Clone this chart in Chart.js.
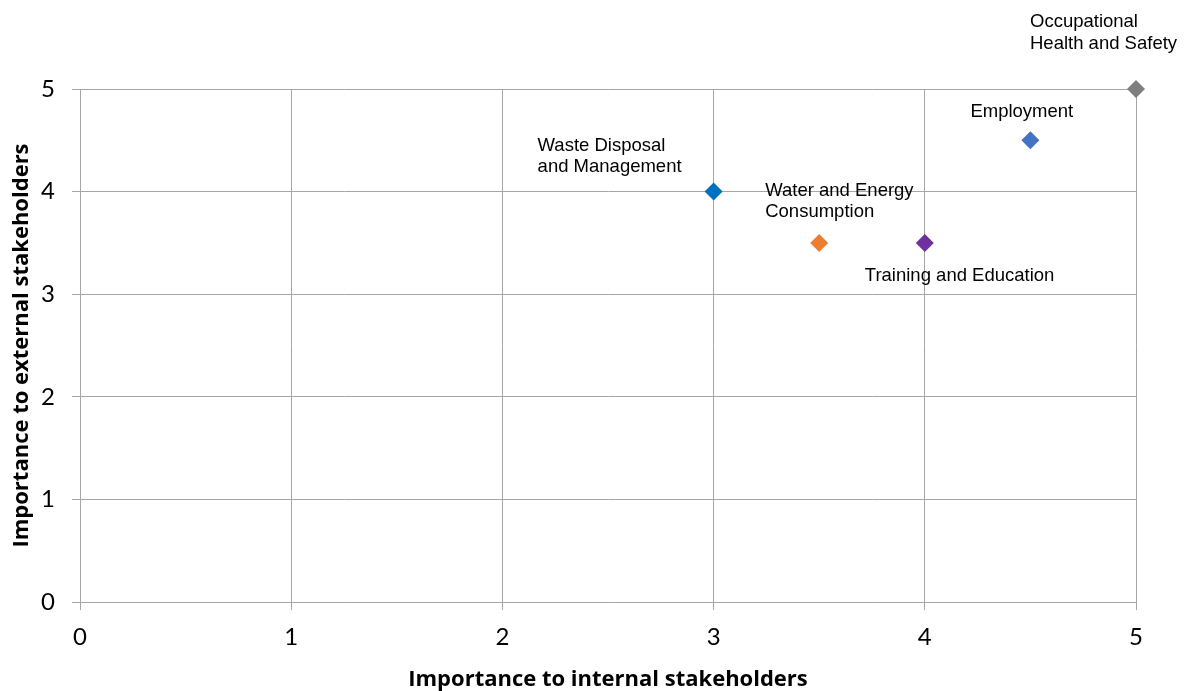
<!DOCTYPE html>
<html lang="en">
<head>
<meta charset="utf-8">
<script src="https://cdn.jsdelivr.net/npm/chart.js@4.4.0/dist/chart.umd.min.js"></script>
<style>
  html, body { margin: 0; padding: 0; background: #fff; }
  #wrap { width: 1188px; height: 691px; }
</style>
</head>
<body>
<div id="wrap"><canvas id="chart"></canvas></div>
<script>
// --- data ---
const topics   = ["Waste Disposal\nand Management", "Water and Energy\nConsumption", "Training and Education", "Employment", "Occupational\nHealth and Safety"];
const internal = [3, 3.5, 4, 4.5, 5];
const external = [4, 3.5, 3.5, 4.5, 5];
const colours  = ["#0070C0", "#ED7D31", "#7030A0", "#4472C4", "#7F7F7F"];
const axisTicks = [0, 1, 2, 3, 4, 5];

// label placement relative to the point (px): left edge, first line centre
const labelOffsets = [
  [-176, -46],
  [-54, -52],
  [-60, 33],
  [-60, -28],
  [-106, -67]
];

const gridColour = "#a6a6a6";
const tickFont = { family: "Lato, 'Open Sans', sans-serif", size: 24 };
const titleFont = { family: "'Open Sans', Lato, sans-serif", size: 22, weight: "bold" };

// draws the topic names beside each diamond
const topicLabels = {
  id: "topicLabels",
  afterDatasetsDraw(chart) {
    const ctx = chart.ctx;
    const xs = chart.scales.x, ys = chart.scales.y;
    ctx.save();
    ctx.font = "18.5px 'Liberation Sans', Arial, sans-serif";
    ctx.fillStyle = "#000";
    ctx.textAlign = "left";
    ctx.textBaseline = "middle";
    topics.forEach((t, i) => {
      const px = xs.getPixelForValue(internal[i]);
      const py = ys.getPixelForValue(external[i]);
      const [dx, dy] = labelOffsets[i];
      t.split("\n").forEach((line, j) => {
        ctx.fillText(line, px + dx, py + dy + j * 21.5);
      });
    });
    ctx.restore();
  }
};

const ctx = document.getElementById("chart").getContext("2d");
new Chart(ctx, {
  type: "scatter",
  data: {
    datasets: [{
      data: internal.map((v, i) => ({ x: v, y: external[i] })),
      pointStyle: "rectRot",
      pointRadius: 9,
      pointHoverRadius: 9,
      pointBackgroundColor: colours,
      pointBorderColor: colours,
      pointBorderWidth: 0,
      clip: false
    }]
  },
  options: {
    responsive: true,
    maintainAspectRatio: false,
    animation: false,
    layout: { padding: { top: 89, right: 52, left: 0, bottom: 0 } },
    plugins: { legend: { display: false }, tooltip: { enabled: false } },
    scales: {
      x: {
        type: "linear",
        min: 0, max: 5,
        afterBuildTicks: s => { s.ticks = axisTicks.map(v => ({ value: v })); },
        afterFit: s => { s.height = 89; },
        grid: { color: gridColour, lineWidth: 1, tickLength: 8, drawTicks: true },
        border: { color: gridColour, width: 1 },
        ticks: { font: tickFont, color: "#000", padding: 13 },
        title: { display: true, text: "Importance to internal stakeholders", font: titleFont, color: "#000", padding: { top: 4, bottom: -2 } }
      },
      y: {
        type: "linear",
        min: 0, max: 5,
        afterBuildTicks: s => { s.ticks = axisTicks.map(v => ({ value: v })); },
        afterFit: s => { s.width = 80; },
        grid: { color: gridColour, lineWidth: 1, tickLength: 8 },
        border: { color: gridColour, width: 1 },
        ticks: { font: tickFont, color: "#000", padding: 17 },
        title: { display: true, text: "Importance to external stakeholders", font: titleFont, color: "#000", padding: { top: 9 } }
      }
    }
  },
  plugins: [topicLabels]
});
</script>
</body>
</html>
